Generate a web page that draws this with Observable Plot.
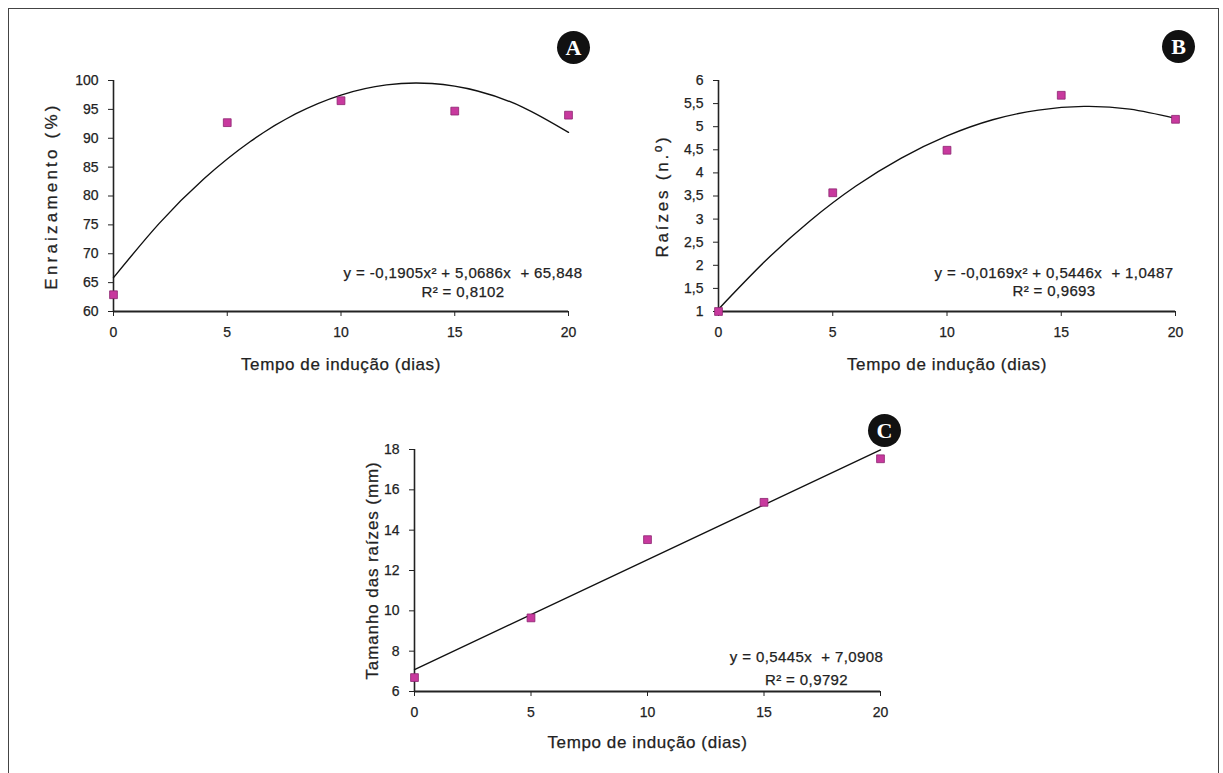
<!DOCTYPE html>
<html>
<head>
<meta charset="utf-8">
<script src="https://cdn.jsdelivr.net/npm/d3@7"></script>
<script src="https://cdn.jsdelivr.net/npm/@observablehq/plot@0.6"></script>
<style>
  body { margin: 0; background: #fff; }
  #wrap { position: relative; width: 1223px; height: 773px; overflow: hidden; background: #fff; font-family: "Liberation Sans", Arial, sans-serif; }
  #frame { position: absolute; left: 8px; top: 8px; width: 1209px; height: 780px; border: 1.5px solid #444; }
  .panel { position: absolute; }
  .badge { position: absolute; width: 33px; height: 33px; border-radius: 50%; background: #111; color: #fff;
           font-family: "Liberation Serif", "DejaVu Serif", serif; font-weight: bold; font-size: 22px;
           display: flex; align-items: center; justify-content: center; line-height: 1; }
  .panel svg text { stroke: #222; stroke-width: 0.25px; }
  .panel g[aria-label="x-axis label"] text,
  .panel g[aria-label="y-axis label"] text { font-size: 17px; letter-spacing: 0.6px; }
  #pA g[aria-label="y-axis label"] text { letter-spacing: 3.2px; }
  #pB g[aria-label="y-axis label"] text { letter-spacing: 2.8px; }
  #pC g[aria-label="y-axis label"] text { letter-spacing: 0.9px; }
  .panel g[aria-label="x-axis tick label"] text,
  .panel g[aria-label="y-axis tick label"] text { font-size: 14px; }
  .panel g[aria-label="text"] text { font-size: 15px; letter-spacing: 0.4px; }
</style>
</head>
<body>
<div id="wrap">
  <div id="frame"></div>
  <div id="pA" class="panel" style="left:0px;top:0px"></div>
  <div id="pB" class="panel" style="left:620px;top:0px"></div>
  <div id="pC" class="panel" style="left:320px;top:390px"></div>
  <div class="badge" style="left:557px;top:31px">A</div>
  <div class="badge" style="left:1162px;top:30px">B</div>
  <div class="badge" style="left:868px;top:414px">C</div>
</div>
<script>
// ---- data ----
const dias = [0, 5, 10, 15, 20];
const enraizamento = [62.9, 92.7, 96.5, 94.7, 94.0];
const raizes = [1.0, 3.57, 4.49, 5.68, 5.16];
const tamanho = [6.69, 9.65, 13.53, 15.38, 17.54];

// trend curves (values read from the printed fits)
const trendX = [0, 2, 4, 6, 8, 10, 12, 14, 16, 18, 20];
const trendA = [65.85, 75.22, 83.07, 89.40, 94.21, 97.48, 99.24, 99.47, 98.18, 95.36, 91.02];
const trendB = [1.05, 2.07, 2.96, 3.71, 4.32, 4.80, 5.15, 5.36, 5.44, 5.38, 5.18];
const trendCX = [0, 20];
const trendC = [7.09, 17.98];

const ticksX = [0, 5, 10, 15, 20];
const ticksA = [60, 65, 70, 75, 80, 85, 90, 95, 100];
const ticksB = [1, 1.5, 2, 2.5, 3, 3.5, 4, 4.5, 5, 5.5, 6];
const ticksC = [6, 8, 10, 12, 14, 16, 18];

const xTitle = "Tempo de indução (dias)";
const yTitleA = "Enraizamento (%)";
const yTitleB = "Raízes (n.º)";
const yTitleC = "Tamanho das raízes (mm)";
const eqA = ["y = -0,1905x² + 5,0686x  + 65,848", "R² = 0,8102"];
const eqB = ["y = -0,0169x² + 0,5446x  + 1,0487", "R² = 0,9693"];
const eqC = ["y = 0,5445x  + 7,0908", "R² = 0,9792"];

const fmt = d => String(d).replace(".", ",");
const ink = "#222";
const markFill = "#c8399e";

function panel(opts) {
  const pts = dias.map((d, i) => ({x: d, y: opts.values[i]}));
  const tr = opts.tx.map((d, i) => ({x: d, y: opts.ty[i]}));
  return Plot.plot({
    width: opts.width, height: opts.height,
    marginLeft: opts.ml, marginRight: opts.mr, marginTop: opts.mt, marginBottom: opts.mb,
    style: {fontFamily: "'Liberation Sans', Arial, sans-serif", fontSize: "14px", color: ink, background: "transparent", overflow: "visible"},
    x: {domain: [0, 20], ticks: ticksX, tickSize: 5, tickPadding: 11, label: xTitle, labelAnchor: "center", labelArrow: "none", labelOffset: opts.xlo},
    y: {domain: opts.domain, ticks: opts.ticks, tickFormat: fmt, tickSize: 5, tickPadding: 10, label: opts.ylabel, labelAnchor: "center", labelArrow: "none", labelOffset: opts.ylo},
    marks: [
      Plot.ruleX([0], {stroke: ink, strokeWidth: 1.6}),
      Plot.ruleY([opts.domain[0]], {stroke: ink, strokeWidth: 2.2}),
      Plot.line(tr, {x: "x", y: "y", curve: opts.curve, stroke: "#111", strokeWidth: 1.4}),
      Plot.dot(pts, {x: "x", y: "y", symbol: "square", r: 4.4, fill: markFill, stroke: "#8c2470", strokeWidth: 0.8}),
      Plot.text([opts.eq[0]], {frameAnchor: "bottom", lineAnchor: "middle", dx: opts.edx, dy: opts.edy1, text: d => d, fontSize: 15, fill: ink}),
      Plot.text([opts.eq[1]], {frameAnchor: "bottom", lineAnchor: "middle", dx: opts.edx, dy: opts.edy2, text: d => d, fontSize: 15, fill: ink})
    ]
  });
}

document.getElementById("pA").append(panel({
  values: enraizamento, tx: trendX, ty: trendA, curve: "natural",
  width: 620, height: 380, ml: 113, mr: 52, mt: 80, mb: 69,
  domain: [60, 100], ticks: ticksA, ylabel: yTitleA, ylo: 69, xlo: 58,
  eq: eqA, edx: 122, edy1: -38, edy2: -19
}));
document.getElementById("pB").append(panel({
  values: raizes, tx: trendX, ty: trendB, curve: "natural",
  width: 603, height: 380, ml: 98, mr: 48, mt: 80, mb: 69,
  domain: [1, 6], ticks: ticksB, ylabel: yTitleB, ylo: 63, xlo: 58,
  eq: eqB, edx: 107, edy1: -38, edy2: -20
}));
document.getElementById("pC").append(panel({
  values: tamanho, tx: trendCX, ty: trendC, curve: "linear",
  width: 600, height: 383, ml: 94, mr: 40, mt: 59, mb: 82,
  domain: [6, 18], ticks: ticksC, ylabel: yTitleC, ylo: 49, xlo: 56,
  eq: eqC, edx: 159, edy1: -34, edy2: -11
}));
</script>
</body>
</html>
